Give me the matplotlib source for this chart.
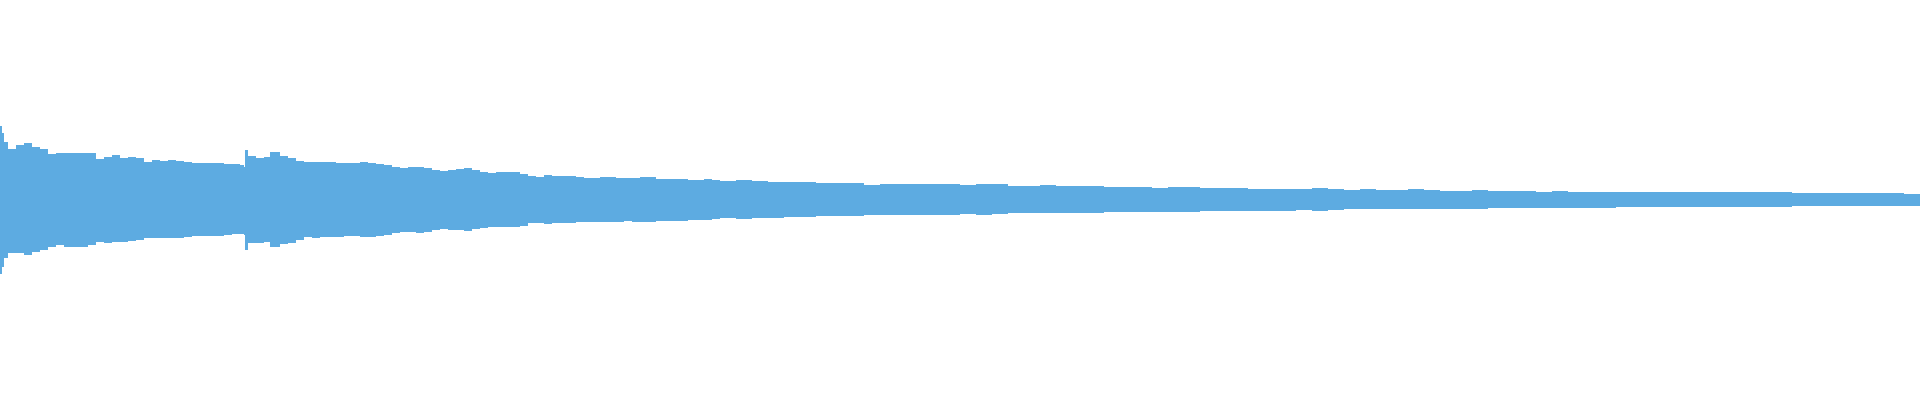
import numpy as np
import matplotlib
matplotlib.use('Agg')
import matplotlib.pyplot as plt

# waveform envelope (position along the track, peak, trough)
pos = [0, 2, 4, 8, 16, 24, 32, 40, 48, 56,
       64, 72, 80, 88, 96, 104, 112, 120, 128, 136,
       144, 152, 160, 168, 176, 184, 192, 200, 208, 216,
       224, 232, 240, 244, 245, 248, 256, 264, 270, 280,
       288, 296, 304, 312, 320, 328, 336, 344, 352, 360,
       368, 376, 384, 392, 400, 408, 416, 424, 432, 440,
       448, 456, 464, 472, 480, 488, 496, 504, 512, 520,
       528, 536, 544, 552, 560, 568, 576, 584, 592, 600,
       608, 616, 624, 632, 640, 648, 656, 664, 672, 680,
       688, 696, 704, 712, 720, 736, 752, 768, 784, 800,
       816, 832, 848, 864, 880, 896, 912, 928, 944, 960,
       976, 992, 1008, 1024, 1040, 1056, 1072, 1088, 1104, 1120,
       1136, 1152, 1168, 1184, 1200, 1216, 1232, 1248, 1264, 1280,
       1296, 1312, 1328, 1344, 1360, 1376, 1392, 1408, 1424, 1440,
       1456, 1472, 1488, 1504, 1520, 1536, 1552, 1568, 1584, 1600,
       1616, 1632, 1648, 1664, 1680, 1696, 1712, 1728, 1744, 1760,
       1776, 1792, 1808, 1824, 1840, 1856, 1872, 1888, 1904, 1920]

peak = [0.370, 0.335, 0.290, 0.255, 0.275, 0.285, 0.265, 0.255, 0.230, 0.235,
        0.235, 0.235, 0.235, 0.235, 0.205, 0.215, 0.225, 0.210, 0.215, 0.210,
        0.190, 0.200, 0.195, 0.200, 0.195, 0.190, 0.185, 0.185, 0.185, 0.185,
        0.180, 0.180, 0.175, 0.165, 0.250, 0.220, 0.210, 0.215, 0.240, 0.220,
        0.210, 0.195, 0.190, 0.190, 0.190, 0.190, 0.185, 0.185, 0.185, 0.190,
        0.185, 0.180, 0.175, 0.165, 0.160, 0.165, 0.165, 0.160, 0.150, 0.145,
        0.150, 0.155, 0.160, 0.150, 0.140, 0.135, 0.140, 0.140, 0.140, 0.130,
        0.120, 0.115, 0.125, 0.120, 0.120, 0.120, 0.115, 0.110, 0.110, 0.115,
        0.115, 0.110, 0.110, 0.110, 0.115, 0.115, 0.105, 0.105, 0.105, 0.105,
        0.100, 0.100, 0.105, 0.100, 0.095, 0.100, 0.095, 0.090, 0.090, 0.090,
        0.085, 0.085, 0.085, 0.075, 0.080, 0.080, 0.080, 0.080, 0.080, 0.075,
        0.080, 0.080, 0.070, 0.070, 0.075, 0.070, 0.070, 0.070, 0.065, 0.065,
        0.065, 0.060, 0.065, 0.065, 0.060, 0.060, 0.060, 0.055, 0.055, 0.055,
        0.055, 0.060, 0.055, 0.050, 0.055, 0.050, 0.050, 0.055, 0.050, 0.045,
        0.045, 0.050, 0.045, 0.045, 0.045, 0.040, 0.045, 0.040, 0.040, 0.040,
        0.040, 0.040, 0.040, 0.040, 0.040, 0.040, 0.040, 0.040, 0.040, 0.040,
        0.040, 0.035, 0.035, 0.035, 0.035, 0.035, 0.035, 0.035, 0.030, 0.030]

trough = [-0.370, -0.335, -0.290, -0.265, -0.265, -0.275, -0.260, -0.250, -0.235, -0.225,
          -0.235, -0.235, -0.235, -0.225, -0.210, -0.215, -0.210, -0.210, -0.205, -0.200,
          -0.190, -0.190, -0.190, -0.190, -0.190, -0.185, -0.180, -0.180, -0.180, -0.180,
          -0.175, -0.170, -0.170, -0.175, -0.250, -0.215, -0.215, -0.210, -0.235, -0.220,
          -0.215, -0.200, -0.185, -0.190, -0.185, -0.185, -0.185, -0.180, -0.180, -0.185,
          -0.185, -0.180, -0.175, -0.165, -0.160, -0.160, -0.165, -0.160, -0.150, -0.145,
          -0.150, -0.150, -0.155, -0.145, -0.140, -0.135, -0.135, -0.135, -0.135, -0.130,
          -0.115, -0.115, -0.120, -0.115, -0.115, -0.115, -0.110, -0.110, -0.110, -0.110,
          -0.110, -0.110, -0.105, -0.110, -0.110, -0.110, -0.105, -0.105, -0.105, -0.105,
          -0.100, -0.100, -0.100, -0.095, -0.090, -0.095, -0.090, -0.090, -0.085, -0.085,
          -0.080, -0.080, -0.080, -0.075, -0.075, -0.075, -0.075, -0.075, -0.075, -0.070,
          -0.075, -0.070, -0.065, -0.065, -0.065, -0.065, -0.065, -0.065, -0.060, -0.060,
          -0.060, -0.060, -0.060, -0.060, -0.055, -0.055, -0.055, -0.055, -0.055, -0.055,
          -0.050, -0.055, -0.050, -0.045, -0.045, -0.045, -0.045, -0.045, -0.045, -0.045,
          -0.045, -0.045, -0.040, -0.040, -0.040, -0.040, -0.040, -0.040, -0.040, -0.040,
          -0.035, -0.035, -0.035, -0.035, -0.035, -0.035, -0.035, -0.035, -0.035, -0.035,
          -0.035, -0.030, -0.030, -0.030, -0.030, -0.030, -0.030, -0.030, -0.030, -0.030]

wave_color = '#5dabe1'

fig = plt.figure(figsize=(19.2, 4), dpi=100)
ax = fig.add_axes([0, 0, 1, 1])
ax.fill_between(pos, trough, peak, step='post', color=wave_color, lw=0)
ax.set_xlim(0, 1920)
ax.set_ylim(-1, 1)
ax.axis('off')

fig.savefig('out.png', dpi=100, facecolor='white')
